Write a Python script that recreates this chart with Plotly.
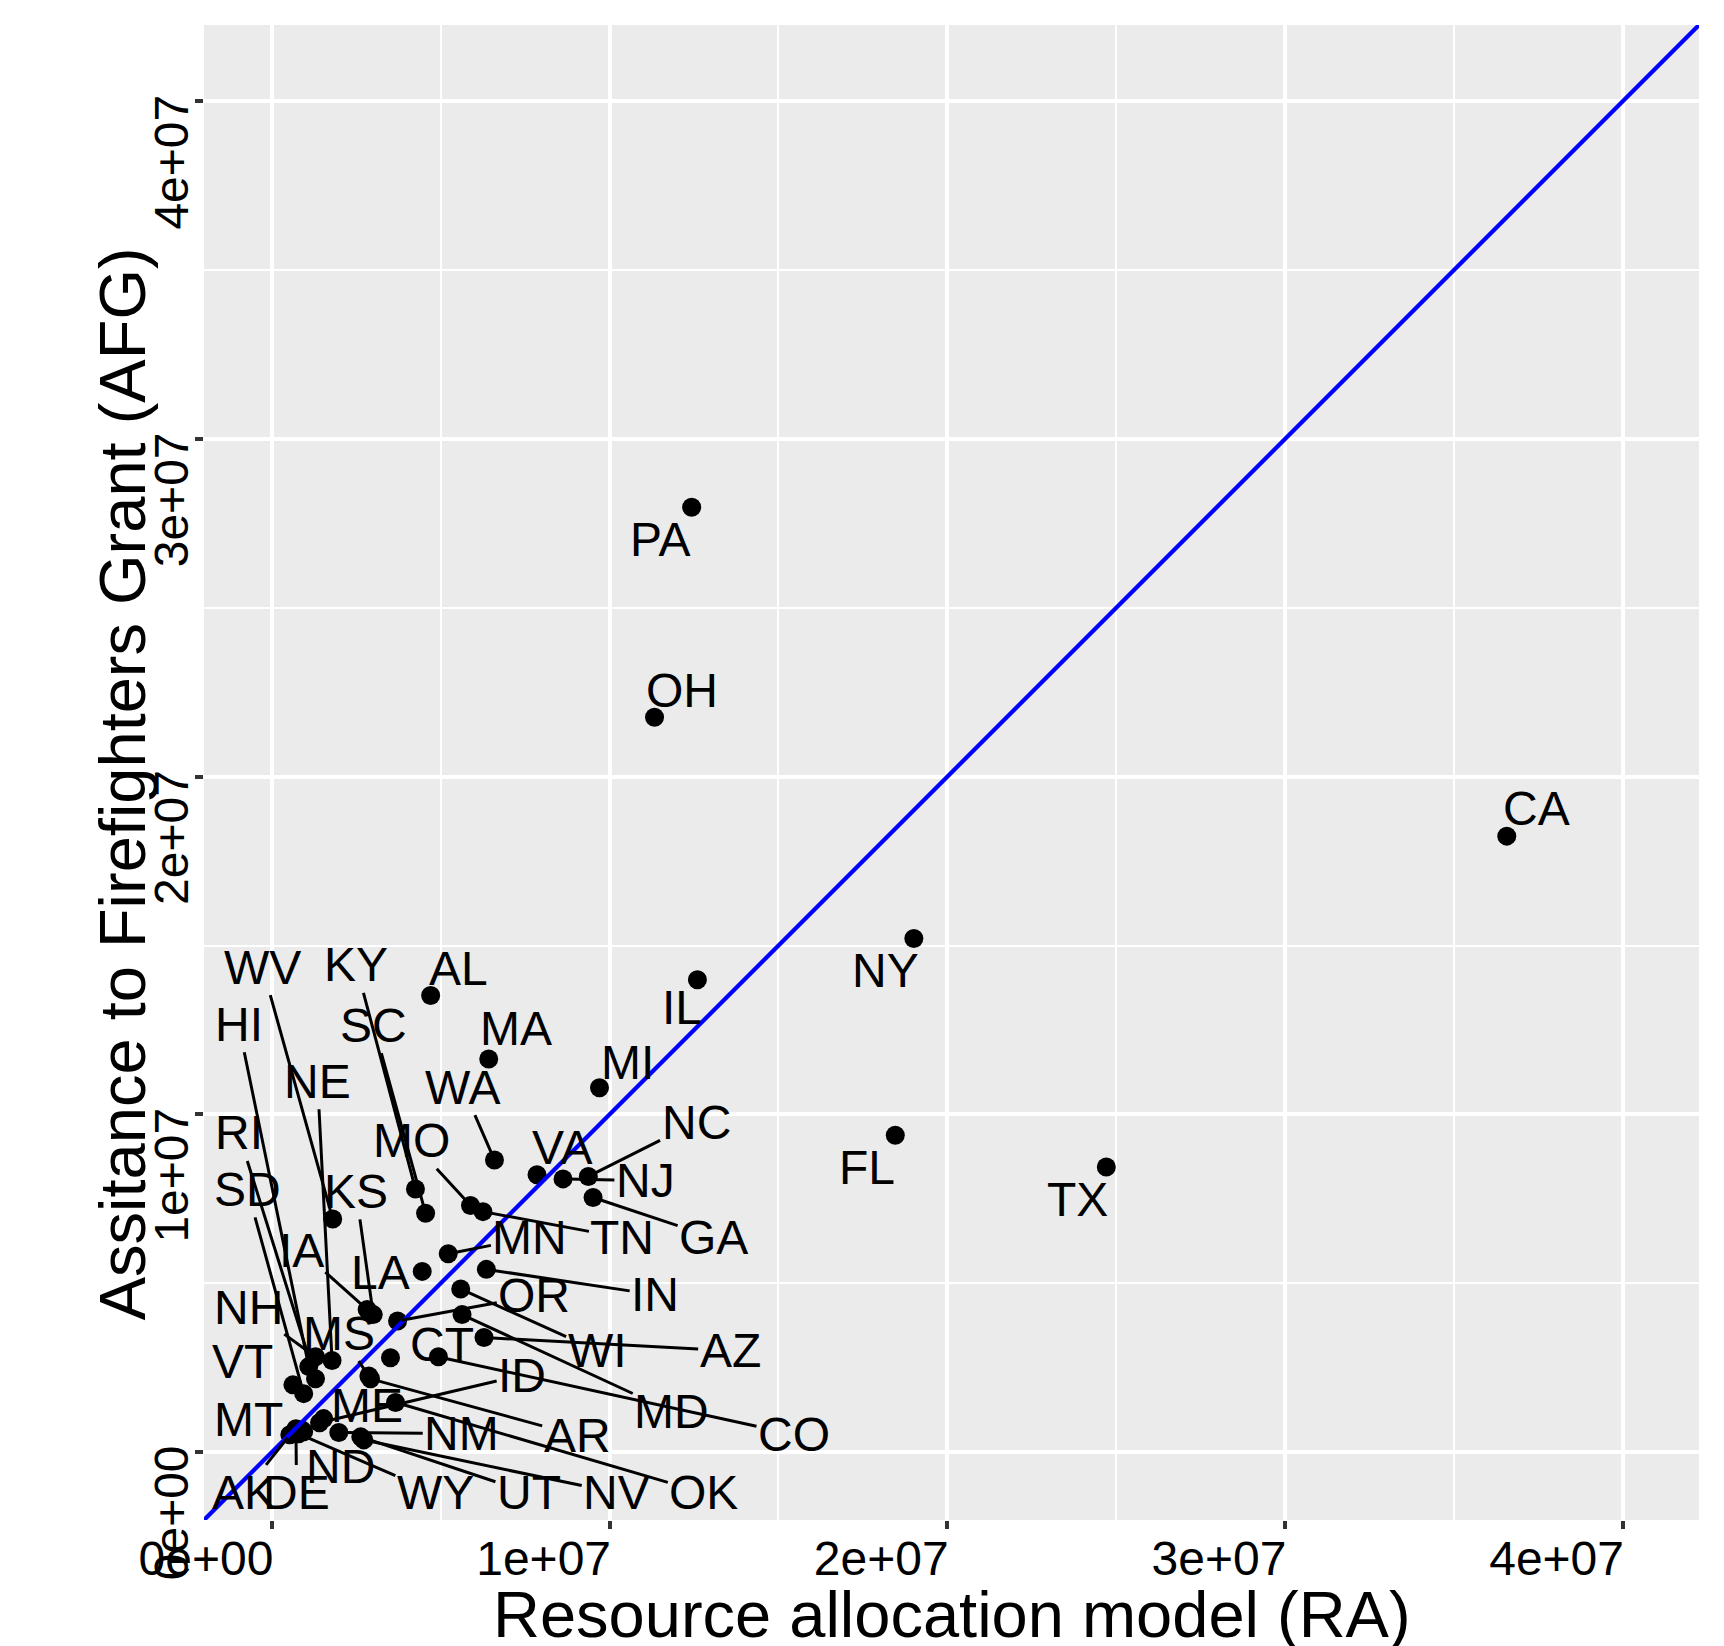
import plotly.graph_objects as go

# ---------------- data (values in dollars) ----------------
states = ["PA", "OH", "CA", "NY", "FL", "TX", "IL", "AL", "MA", "MI",
          "WA", "VA", "NJ", "NC", "GA", "KY", "SC", "MO", "TN", "MN",
          "LA", "IN", "WI", "MD", "OR", "AZ", "CO", "CT", "IA", "KS",
          "WV", "MS", "AR", "OK", "ID", "ME", "NM", "UT", "NV", "WY",
          "ND", "DE", "AK", "MT", "NE", "NH", "HI", "RI", "SD", "VT"]

ra = [12430000, 11330000, 36570000, 19010000, 18460000, 24710000, 12600000, 4700000, 6420000, 9700000,
      6590000, 7850000, 8620000, 9370000, 9510000, 4250000, 4550000, 5880000, 6250000, 5220000,
      4450000, 6350000, 5590000, 5630000, 3720000, 6280000, 4930000, 3510000, 2820000, 3000000,
      1800000, 2870000, 2920000, 3660000, 1410000, 1530000, 1980000, 2630000, 2720000, 790000,
      940000, 710000, 530000, 880000, 1780000, 1290000, 1090000, 1290000, 940000, 620000]

afg = [27980000, 21760000, 18240000, 15210000, 9380000, 8440000, 13990000, 13520000, 11640000, 10790000,
       8650000, 8210000, 8090000, 8160000, 7540000, 7790000, 7070000, 7300000, 7120000, 5870000,
       5350000, 5410000, 4830000, 4070000, 3880000, 3390000, 2820000, 2790000, 4220000, 4070000,
       6900000, 2250000, 2170000, 1470000, 870000, 990000, 580000, 450000, 360000, 540000,
       600000, 690000, 510000, 660000, 2710000, 2820000, 2530000, 2170000, 1730000, 1990000]

x_ticks = [0, 10000000, 20000000, 30000000, 40000000]
x_tick_text = ["0e+00", "1e+07", "2e+07", "3e+07", "4e+07"]
y_ticks = [0, 10000000, 20000000, 30000000, 40000000]
y_tick_text = ["0e+00", "1e+07", "2e+07", "3e+07", "4e+07"]

x_title = "Resource allocation model (RA)"
y_title = "Assitance to Firefighters Grant (AFG)"

# reference line y = intercept + slope * x
abline_intercept = 0
abline_slope = 1

# ---------------- label placement (repelled text positions, data units) ----------------
LABEL_POS = {
    "PA": (11.48e6, 27.04e6), "OH": (12.14e6, 22.54e6), "CA": (37.45e6, 19.06e6),
    "NY": (18.16e6, 14.27e6), "IL": (12.14e6, 13.16e6), "AL": (5.52e6, 14.33e6),
    "MA": (7.22e6, 12.54e6), "MI": (10.54e6, 11.53e6), "WA": (5.65e6, 10.81e6),
    "NC": (12.56e6, 9.77e6), "VA": (8.58e6, 9.02e6), "NJ": (11.06e6, 8.04e6),
    "FL": (17.61e6, 8.44e6), "TX": (23.86e6, 7.49e6), "GA": (13.08e6, 6.35e6),
    "TN": (10.38e6, 6.35e6), "MN": (7.64e6, 6.35e6), "MO": (4.12e6, 9.22e6),
    "KY": (2.49e6, 14.43e6), "WV": (-0.28e6, 14.36e6), "HI": (-0.99e6, 12.67e6),
    "SC": (3.01e6, 12.64e6), "NE": (1.35e6, 10.98e6), "RI": (-0.99e6, 9.45e6),
    "SD": (-0.73e6, 7.78e6), "KS": (2.49e6, 7.72e6), "IA": (0.87e6, 5.96e6),
    "LA": (3.21e6, 5.31e6), "NH": (-0.70e6, 4.27e6), "MS": (2.00e6, 3.52e6),
    "VT": (-0.86e6, 2.67e6), "CT": (5.03e6, 3.19e6), "OR": (7.77e6, 4.63e6),
    "IN": (11.35e6, 4.66e6), "WI": (9.63e6, 3.00e6), "AZ": (13.57e6, 3.00e6),
    "ID": (7.41e6, 2.28e6), "MD": (11.84e6, 1.20e6), "CO": (15.46e6, 0.52e6),
    "ME": (2.82e6, 1.37e6), "MT": (-0.70e6, 0.97e6), "NM": (5.62e6, 0.55e6),
    "AR": (9.04e6, 0.49e6), "ND": (2.04e6, -0.42e6), "AK": (-0.83e6, -1.21e6),
    "DE": (0.73e6, -1.21e6), "WY": (4.84e6, -1.21e6), "UT": (7.61e6, -1.21e6),
    "NV": (10.21e6, -1.21e6), "OK": (12.79e6, -1.21e6),
}
NO_SEGMENT = {"PA", "OH", "CA", "NY", "IL", "AL", "MA", "MI", "FL", "TX",
              "VA", "LA", "CT", "ME", "MT", "ND", "VT"}

FONT = "Liberation Sans, Arial, Helvetica, sans-serif"
lim_max = 40250000
pad = 0.05 * lim_max
axis_range = [-pad, lim_max + pad]

fig = go.Figure()

fig.add_trace(go.Scatter(
    x=ra, y=afg, mode="markers",
    marker=dict(color="black", size=19, line=dict(width=0)),
    showlegend=False, hoverinfo="skip",
))

line_x = axis_range
line_y = [abline_intercept + abline_slope * v for v in line_x]
fig.add_trace(go.Scatter(
    x=line_x, y=line_y, mode="lines",
    line=dict(color="#0000FF", width=4.2),
    showlegend=False, hoverinfo="skip",
))

for s, xv, yv in zip(states, ra, afg):
    lx, ly = LABEL_POS[s]
    fig.add_annotation(
        x=xv, y=yv, xref="x", yref="y",
        ax=lx, ay=ly, axref="x", ayref="y",
        text=s, showarrow=True, arrowhead=0, arrowwidth=3,
        arrowcolor="rgba(0,0,0,0)" if s in NO_SEGMENT else "black",
        standoff=4, startstandoff=0,
        font=dict(family=FONT, size=48, color="black"),
    )

# axis titles
fig.add_annotation(
    text=x_title, xref="paper", yref="paper", x=0.5, y=-0.0635,
    xanchor="center", yanchor="middle", showarrow=False,
    font=dict(family=FONT, size=65, color="black"),
)
fig.add_annotation(
    text=y_title, xref="paper", yref="paper", x=-0.0545, y=0.4925,
    xanchor="center", yanchor="middle", showarrow=False, textangle=-90,
    font=dict(family=FONT, size=65, color="black"),
)

axis_common = dict(
    range=axis_range, autorange=False,
    showgrid=True, gridcolor="white", gridwidth=4,
    zeroline=False, showline=False,
    ticks="outside", ticklen=8, tickwidth=3.5, tickcolor="#333333",
    tickfont=dict(family=FONT, size=48, color="black"),
    minor=dict(dtick=5000000, tick0=0, showgrid=True, gridcolor="white", gridwidth=2, ticks=""),
)

fig.update_xaxes(
    **axis_common,
    tickvals=x_ticks, ticktext=x_tick_text,
    ticklabelshift=-66, ticklabelstandoff=-12,
)
fig.update_yaxes(
    **axis_common,
    tickvals=y_ticks, ticktext=y_tick_text,
    tickangle=-90, ticklabelshift=68, ticklabelstandoff=-12,
)

fig.update_layout(
    width=1724, height=1646,
    margin=dict(l=204, r=25, t=25, b=126, autoexpand=False),
    plot_bgcolor="#EBEBEB", paper_bgcolor="white",
    font=dict(family=FONT),
    showlegend=False,
)

fig.write_html("out.html")
